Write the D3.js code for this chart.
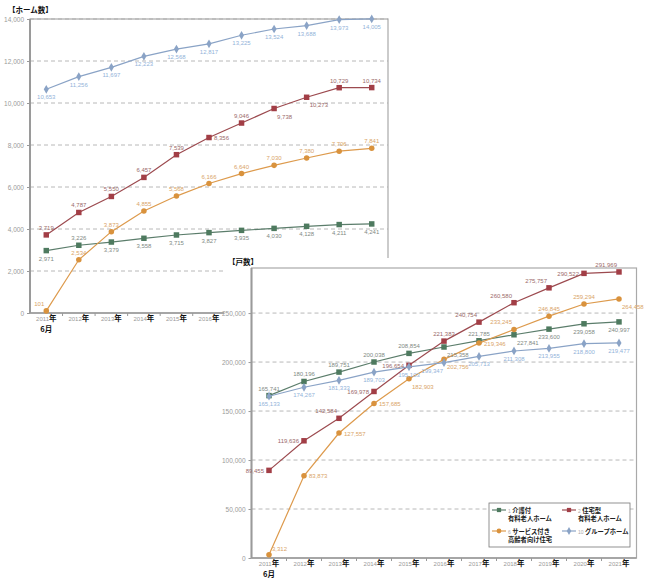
<!DOCTYPE html>
<html><head><meta charset="utf-8">
<script src="https://cdn.jsdelivr.net/npm/d3@7"></script>
<style>
body{margin:0;background:#fff;}
svg{display:block;}
</style></head>
<body><svg id="c" width="650" height="585"></svg>
<script>
const years = ["2011","2012","2013","2014","2015","2016","2017","2018","2019","2020","2021"];
const seriesNames = ["介護付 有料老人ホーム","住宅型 有料老人ホーム","サービス付き 高齢者向け住宅","グループホーム"];

// Top chart: number of homes
const homesKaigo   = [2971,3226,3379,3558,3715,3827,3935,4030,4128,4211,4241];
const homesJutaku  = [3719,4787,5550,6457,7539,8356,9046,9738,10273,10729,10734];
const homesSakoju  = [101,2534,3873,4855,5568,6166,6640,7030,7380,7706,7841];
const homesGroup   = [10653,11256,11697,12223,12568,12817,13225,13524,13688,13973,14005];
const homesTicks   = [0,2000,4000,6000,8000,10000,12000,14000];

// Bottom chart: number of units
const unitsKaigo   = [165741,180196,189751,200038,208854,215358,221785,227841,233600,239058,240997];
const unitsJutaku  = [89455,119636,142584,169978,196654,221383,240754,260580,275757,290522,291969];
const unitsSakoju  = [3312,83873,127557,157685,182903,202756,219346,233245,246845,259294,264458];
const unitsGroup   = [165133,174267,181333,189703,195103,199347,205713,211308,213955,218800,219477];
const unitsTicks   = [0,50000,100000,150000,200000,250000];

// label placement codes (a=above, b=below, l=left, r=right ...)
const homesPos = [
  ["b","a","b","b","b","b","b","b","b","b","b"],
  ["a","a","a","a","a","r","a","br","br","a","a"],
  ["al","a","a","a","a","a","a","a","a","a","a"],
  ["b","b","b","b","b","b","b","b","b","b","b"]
];
const unitsPos = [
  ["a","a","a","a","a","br","a","br","b","b","b"],
  ["l","l","al","l","l","a","al","al","al","l","al"],
  ["ar","r","r","r","br","br","r","al","a","a","br"],
  ["b","b","b","b","b","bl","b","b","b","b","b"]
];

const lineColors  = ["#5b7d6b","#9c4a4f","#dd9a4c","#8aa3c6"];
const markColors  = ["#4e7a5f","#a23e46","#d9923d","#8aa3c6"];
const labelColors = ["#7f8a84","#9a6a6a","#d9a468","#93b3d9"];
const shapes = ["square","square","circle","diamond"];

const svg = d3.select("#c");
const fmt = d3.format(",");
const numFont = "'Liberation Sans', Arial, sans-serif";
const jpFont = "'Noto Sans CJK JP', sans-serif";

function drawChart(g, opts) {
  const x = d3.scaleBand().domain(years).range(opts.xr).padding(0);
  const y = d3.scaleLinear().domain(opts.yd).range(opts.yr);
  const [x0, x1] = opts.xr, [yb, yt] = opts.yr;

  // gridlines
  g.append("g").selectAll("line").data(opts.ticks.filter(t => t > 0)).join("line")
    .attr("x1", x0).attr("x2", x1).attr("y1", d => y(d)).attr("y2", d => y(d))
    .attr("stroke", "#b8b8b8").attr("stroke-width", 1).attr("stroke-dasharray", "4,3");

  // frame
  g.append("rect").attr("x", x0).attr("y", yt).attr("width", x1 - x0).attr("height", yb - yt)
    .attr("fill", "none").attr("stroke", "#a9a9a9").attr("stroke-width", 1.2);
  g.append("line").attr("x1", x0).attr("x2", x0).attr("y1", yt).attr("y2", yb)
    .attr("stroke", "#9a9a9a").attr("stroke-width", 2);
  g.append("line").attr("x1", x0).attr("x2", x1).attr("y1", yb).attr("y2", yb)
    .attr("stroke", "#9a9a9a").attr("stroke-width", 1.5);

  // y axis
  const ya = d3.axisLeft(y).tickValues(opts.ticks).tickFormat(d3.format(",")).tickSize(3);
  const yg = g.append("g").attr("transform", `translate(${x0},0)`).call(ya);
  yg.select(".domain").remove();
  yg.selectAll(".tick line").attr("stroke", "#999");
  yg.selectAll("text").attr("fill", "#9a9a9a").attr("font-size", 6.5).attr("font-family", numFont);

  // x axis
  const xa = d3.axisBottom(x).tickSize(0).tickFormat("");
  const xg = g.append("g").attr("transform", `translate(0,${yb})`).call(xa);
  xg.select(".domain").remove();
  xg.selectAll(".bt").data(years.slice(1)).join("line")
    .attr("x1", d => x(d)).attr("x2", d => x(d)).attr("y1", 0).attr("y2", 3)
    .attr("stroke", "#999");
  const xt = xg.selectAll(".tick");
  const tx = xt.append("text").attr("y", 8).attr("text-anchor", "middle");
  tx.append("tspan").text(d => d).attr("fill", "#9a9a9a").attr("font-size", 6).attr("font-family", numFont);
  tx.append("tspan").text("年").attr("fill", "#111").attr("font-size", 7.5).attr("font-weight", "bold").attr("font-family", jpFont);
  g.append("text").attr("x", x(years[0]) + x.bandwidth() / 2).attr("y", yb + 18.5)
    .attr("text-anchor", "middle").attr("font-size", 7.5).attr("font-weight", "bold")
    .attr("font-family", jpFont).attr("fill", "#111").text("6月");

  // unit label
  g.append("text").attr("x", opts.unitX).attr("y", opts.unitY).attr("font-size", 7.5)
    .attr("font-weight", "bold").attr("font-family", jpFont).attr("fill", "#111").text(opts.unit);

  const cx = d => x(d) + x.bandwidth() / 2;
  const line = d3.line().x(d => cx(d[0])).y(d => y(d[1]));

  opts.series.forEach((vals, si) => {
    const pts = years.map((yr, i) => [yr, vals[i]]);
    g.append("path").datum(pts).attr("d", line).attr("fill", "none")
      .attr("stroke", lineColors[si]).attr("stroke-width", 1.2);
    const sym = shapes[si] === "square" ? d3.symbolSquare : shapes[si] === "circle" ? d3.symbolCircle : d3.symbolDiamond;
    const sz = shapes[si] === "square" ? 30 : shapes[si] === "circle" ? 24 : 22;
    g.append("g").selectAll("path").data(pts).join("path")
      .attr("transform", d => `translate(${cx(d[0])},${y(d[1])})`)
      .attr("d", d3.symbol().type(sym).size(sz)).attr("fill", markColors[si]);
  });

  // labels
  const off = {
    a: [0, -5, "middle"], b: [0, 10, "middle"], l: [-5, 2.5, "end"], r: [5, 2.5, "start"],
    al: [-2, -5, "end"], ar: [3, -4, "start"], br: [3, 10, "start"], bl: [-1, 10, "end"]
  };
  opts.series.forEach((vals, si) => {
    g.append("g").selectAll("text").data(years).join("text")
      .attr("x", (d, i) => cx(d) + off[opts.pos[si][i]][0])
      .attr("y", (d, i) => y(vals[i]) + off[opts.pos[si][i]][1])
      .attr("text-anchor", (d, i) => off[opts.pos[si][i]][2])
      .attr("font-size", 6).attr("font-family", numFont).attr("fill", labelColors[si])
      .text((d, i) => fmt(vals[i]));
  });
  return {x, y};
}

// Top chart
const gTop = svg.append("g");
drawChart(gTop, {
  xr: [30, 388], yr: [313, 19], yd: [0, 14000], ticks: homesTicks,
  series: [homesKaigo, homesJutaku, homesSakoju, homesGroup], pos: homesPos,
  unit: "【ホーム数】", unitX: 8, unitY: 13
});

// Bottom chart background (overlaps top)
svg.append("rect").attr("x", 224).attr("y", 258).attr("width", 426).attr("height", 327).attr("fill", "#fff");
const gBot = svg.append("g");
drawChart(gBot, {
  xr: [251.5, 636.5], yr: [558, 268], yd: [0, 296000], ticks: unitsTicks,
  series: [unitsKaigo, unitsJutaku, unitsSakoju, unitsGroup], pos: unitsPos,
  unit: "【戸数】", unitX: 228, unitY: 265
});

// Legend
const lg = svg.append("g");
lg.append("rect").attr("x", 489).attr("y", 503).attr("width", 141).attr("height", 44)
  .attr("fill", "#fff").attr("stroke", "#777").attr("stroke-width", 0.8);
const legendItems = [
  {i: 0, num: "1", l1: "介護付", l2: "有料老人ホーム", x: 492, y: 510},
  {i: 1, num: "2", l1: "住宅型", l2: "有料老人ホーム", x: 562, y: 510},
  {i: 2, num: "6", l1: "サービス付き", l2: "高齢者向け住宅", x: 492, y: 531},
  {i: 3, num: "10", l1: "グループホーム", l2: "", x: 562, y: 531}
];
legendItems.forEach(it => {
  const si = it.i;
  lg.append("line").attr("x1", it.x).attr("x2", it.x + 14).attr("y1", it.y).attr("y2", it.y)
    .attr("stroke", lineColors[si]).attr("stroke-width", 1.2);
  const sym = shapes[si] === "square" ? d3.symbolSquare : shapes[si] === "circle" ? d3.symbolCircle : d3.symbolDiamond;
  lg.append("path").attr("transform", `translate(${it.x + 7},${it.y})`)
    .attr("d", d3.symbol().type(sym).size(18)).attr("fill", markColors[si]);
  const t = lg.append("text").attr("x", it.x + 16).attr("y", it.y + 2.5).attr("font-family", jpFont)
    .attr("font-size", 6.3).attr("font-weight", "bold").attr("fill", "#222");
  t.append("tspan").text(it.num + " ").attr("fill", "#aaa").attr("font-weight", "normal").attr("font-size", 5).attr("font-family", numFont);
  t.append("tspan").text(it.l1);
  if (it.l2) {
    lg.append("text").attr("x", it.x + 16).attr("y", it.y + 11).attr("font-family", jpFont)
      .attr("font-size", 6.3).attr("font-weight", "bold").attr("fill", "#222").text(it.l2);
  }
});
</script></body></html>
